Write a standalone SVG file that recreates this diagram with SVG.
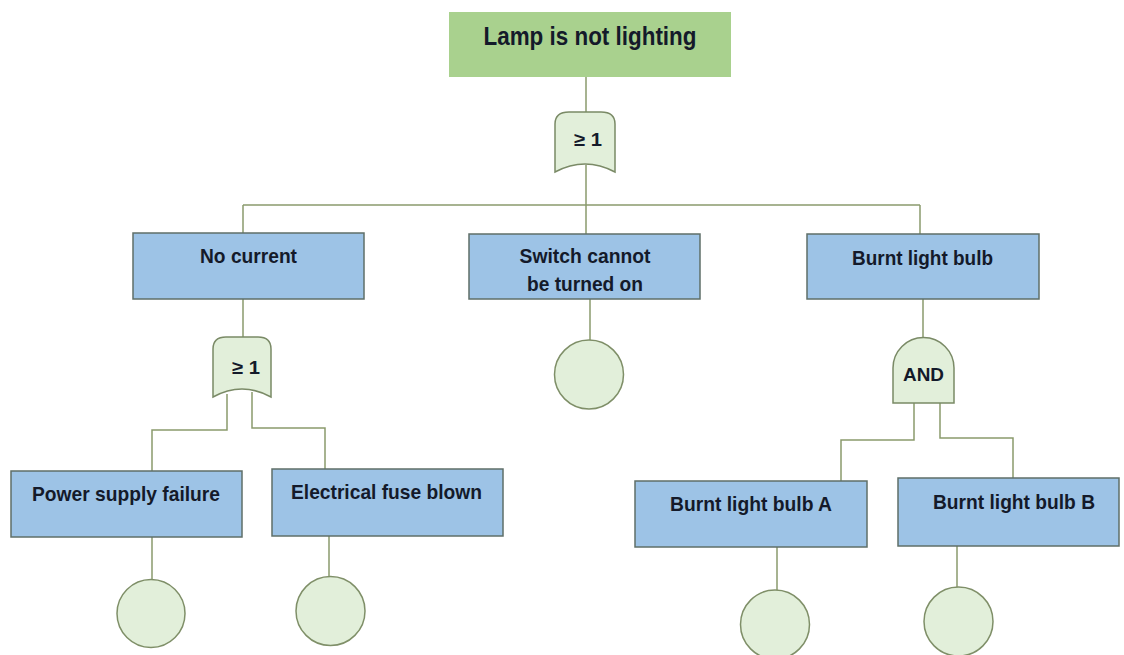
<svg xmlns="http://www.w3.org/2000/svg" width="1124" height="655" viewBox="0 0 1124 655">
<style>
.top{fill:#a9d18e;stroke:none}
.box{fill:#9dc3e6;stroke:#5f6f68;stroke-width:1.5}
.gate{fill:#e2efda;stroke:#7a8a66;stroke-width:1.5}
.ev{fill:#e2efda;stroke:#7f8f68;stroke-width:1.5}
.c{fill:none;stroke:#8a9a6c;stroke-width:1.5}
text{font-family:"Liberation Sans",Arial,sans-serif;font-weight:bold;fill:#141a2a;text-anchor:middle}
.t{font-size:25px}
.l{font-size:21px}
.g{font-size:19px}
</style>
<rect width="1124" height="655" fill="#ffffff"/>
<g id="connectors">
<path class="c" d="M586,77 V112"/>
<path class="c" d="M586,165 V234"/>
<path class="c" d="M243,205 H920"/>
<path class="c" d="M243,205 V233"/>
<path class="c" d="M920,205 V234"/>
<path class="c" d="M243,299 V337"/>
<path class="c" d="M227,394 V430 H152 V471"/>
<path class="c" d="M252,392 V428 H325 V469"/>
<path class="c" d="M590,299 V340"/>
<path class="c" d="M923,299 V338"/>
<path class="c" d="M914,403 V440 H841 V481"/>
<path class="c" d="M940,403 V438 H1013 V478"/>
<path class="c" d="M152,537 V579"/>
<path class="c" d="M329,536 V577"/>
<path class="c" d="M777,547 V590"/>
<path class="c" d="M957,546 V587"/>
</g>
<g id="top-event">
<rect class="top" x="449" y="12" width="282" height="65"/>
<text class="t" x="590" y="45" textLength="213" lengthAdjust="spacingAndGlyphs">Lamp is not lighting</text>
</g>
<g id="gate-or-top">
<path class="gate" d="M555,172 L555,124 Q555,112 569,112 L601,112 Q615,112 615,124 L615,172 Q585,156 555,172 Z"/>
<text class="g" x="588" y="146" textLength="28" lengthAdjust="spacingAndGlyphs">≥ 1</text>
</g>
<g id="no-current">
<rect class="box" x="133" y="233" width="231" height="66"/>
<text class="l" x="248.5" y="263" textLength="97" lengthAdjust="spacingAndGlyphs">No current</text>
</g>
<g id="switch">
<rect class="box" x="469" y="234" width="231" height="65"/>
<text class="l" x="585" y="263" textLength="131" lengthAdjust="spacingAndGlyphs">Switch cannot</text>
<text class="l" x="585" y="291" textLength="116" lengthAdjust="spacingAndGlyphs">be turned on</text>
</g>
<g id="burnt-bulb">
<rect class="box" x="807" y="234" width="232" height="65"/>
<text class="l" x="922.5" y="265" textLength="141" lengthAdjust="spacingAndGlyphs">Burnt light bulb</text>
</g>
<g id="gate-or-2">
<path class="gate" d="M213,397 L213,349 Q213,337 226,337 L258,337 Q271,337 271,349 L271,397 Q242,381 213,397 Z"/>
<text class="g" x="246" y="374" textLength="28" lengthAdjust="spacingAndGlyphs">≥ 1</text>
</g>
<g id="gate-and">
<path class="gate" d="M893,403 L893,368 A30.5,30.5 0 0 1 954,368 L954,403 Z"/>
<text class="g" x="923.5" y="381" textLength="41" lengthAdjust="spacingAndGlyphs">AND</text>
</g>
<g id="power-supply">
<rect class="box" x="11" y="471" width="231" height="66"/>
<text class="l" x="126" y="501" textLength="188" lengthAdjust="spacingAndGlyphs">Power supply failure</text>
</g>
<g id="fuse">
<rect class="box" x="272" y="469" width="231" height="67"/>
<text class="l" x="386.5" y="499" textLength="191" lengthAdjust="spacingAndGlyphs">Electrical fuse blown</text>
</g>
<g id="bulb-a">
<rect class="box" x="635" y="481" width="232" height="66"/>
<text class="l" x="751" y="511" textLength="162" lengthAdjust="spacingAndGlyphs">Burnt light bulb A</text>
</g>
<g id="bulb-b">
<rect class="box" x="898" y="478" width="221" height="68"/>
<text class="l" x="1014" y="509" textLength="162" lengthAdjust="spacingAndGlyphs">Burnt light bulb B</text>
</g>
<g id="event-switch"><circle class="ev" cx="589" cy="374.5" r="34.5"/></g>
<g id="event-power"><circle class="ev" cx="151" cy="613.5" r="34"/></g>
<g id="event-fuse"><circle class="ev" cx="330.5" cy="611" r="34.5"/></g>
<g id="event-bulb-a"><circle class="ev" cx="775" cy="624.5" r="34.5"/></g>
<g id="event-bulb-b"><circle class="ev" cx="958.5" cy="621.5" r="34.5"/></g>
</svg>
